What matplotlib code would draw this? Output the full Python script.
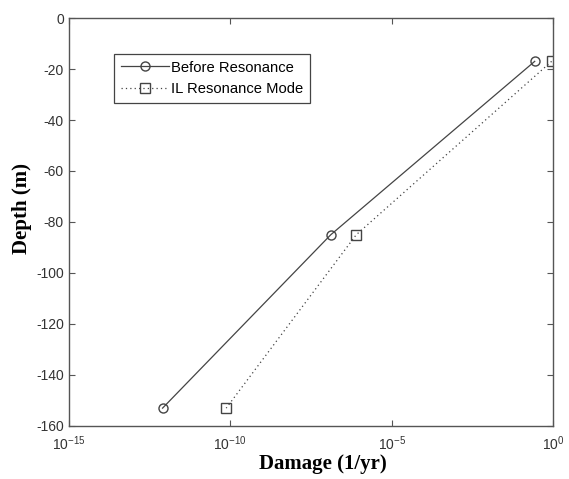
import numpy as np
import matplotlib
matplotlib.use('Agg')
import matplotlib.pyplot as plt
from matplotlib.ticker import FixedLocator, NullLocator, LogFormatterSciNotation

plt.rcParams['font.family'] = ['Liberation Sans', 'DejaVu Sans']
plt.rcParams['axes.unicode_minus'] = False

# data
depth = [-17, -85, -153]
damage_before = [2.7e-1, 1.3e-7, 8.0e-13]
damage_il = [9.0e-1, 8.0e-7, 7.5e-11]

fig = plt.figure(figsize=(5.69, 4.79), dpi=100)
ax = fig.add_axes([0.121, 0.1107, 0.851, 0.8517])

line_col = '#444444'
ax.semilogx(damage_before, depth, '-', color=line_col, lw=0.9, marker='o',
            markersize=6.5, markerfacecolor='none', markeredgecolor=line_col,
            label='Before Resonance')
ax.semilogx(damage_il, depth, linestyle=(0, (1, 2.5)), color=line_col, lw=0.9,
            marker='s', markersize=7.5, markerfacecolor='none',
            markeredgecolor=line_col, label='IL Resonance Mode')

ax.set_xlim(1e-15, 1e0)
ax.set_ylim(-160, 0)
ax.xaxis.set_major_locator(FixedLocator([1e-15, 1e-10, 1e-5, 1e0]))
ax.xaxis.set_minor_locator(NullLocator())
ax.xaxis.set_major_formatter(LogFormatterSciNotation())
ax.set_yticks(np.arange(-160, 1, 20))

ax.tick_params(direction='in', top=True, right=True, length=4, width=0.8,
               colors='#555555', labelcolor='#333333', labelsize=10)
ax.tick_params(axis='x', pad=6)
for s in ax.spines.values():
    s.set_color('#555555')
    s.set_linewidth(1.0)

ax.set_xlabel('Damage (1/yr)', family='Liberation Serif', fontweight='bold',
              fontsize=15)
ax.set_ylabel('Depth (m)', family='Liberation Serif', fontweight='bold',
              fontsize=15)
ax.xaxis.set_label_coords(0.525, -0.068)
ax.yaxis.set_label_coords(-0.076, 0.534)

leg = ax.legend(loc='upper left', bbox_to_anchor=(0.093, 0.912), fontsize=10.6,
                fancybox=False, framealpha=1, edgecolor='#444444',
                borderpad=0.45, handlelength=3.3, labelspacing=0.5,
                handletextpad=0.15, borderaxespad=0)
leg.get_frame().set_linewidth(0.9)

fig.savefig('out.png', dpi=100)
